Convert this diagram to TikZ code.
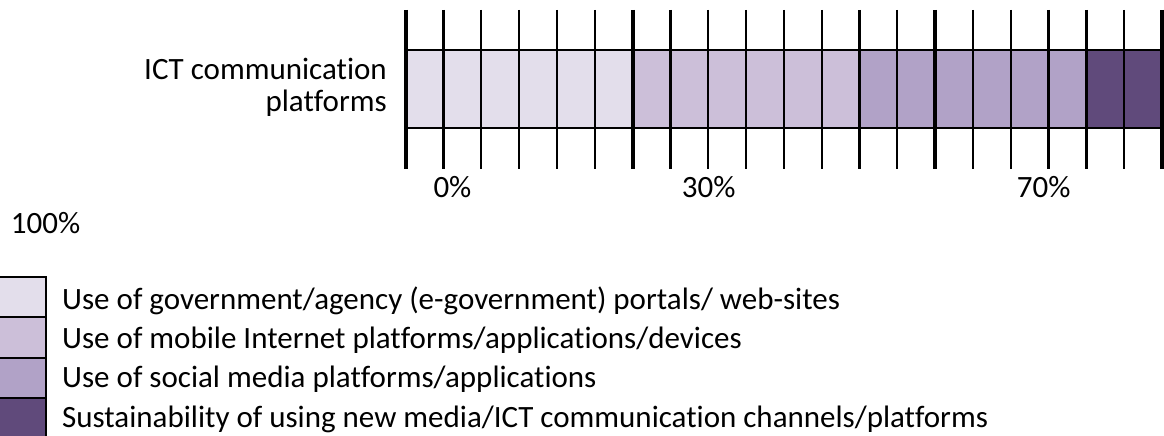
\documentclass[tikz,border=0pt]{standalone}
\usepackage{fontspec}
\setmainfont{Carlito}[Ligatures={NoCommon}]
\definecolor{cA}{RGB}{227,222,235}
\definecolor{cB}{RGB}{204,191,217}
\definecolor{cC}{RGB}{177,162,199}
\definecolor{cD}{RGB}{96,74,123}
\begin{document}
\begin{tikzpicture}[x=1pt,y=-1pt,
  lbl/.style={inner sep=0pt,font=\fontsize{31}{34}\selectfont},
  thin/.style={line width=2.3pt},
  thick/.style={line width=4pt},
  legbox/.style={draw=black,line width=2pt}]
\useasboundingbox (0,0) rectangle (1164,436);
\pgfmathsetmacro{\xo}{405.7}
\pgfmathsetmacro{\dx}{37.815}
% cells
\foreach \i in {0,...,19}{
  \ifnum\i<6 \def\cc{cA}\else\ifnum\i<12 \def\cc{cB}\else\ifnum\i<18 \def\cc{cC}\else\def\cc{cD}\fi\fi\fi
  \fill[\cc] ({\xo+\i*\dx},50) rectangle ({\xo+(\i+1)*\dx},128.3);
}
\draw[line width=2pt] (\xo,50) -- ({\xo+20*\dx},50);
\draw[line width=2pt] (\xo,128.3) -- ({\xo+20*\dx},128.3);
\foreach \i in {1,2,3,4,5,7,8,9,10,11,12,13,15,16,17,18,19}
  \draw[thin] ({\xo+\i*\dx},10) -- ({\xo+\i*\dx},169.3);
\foreach \i in {0,6,14,20}
  \draw[thick] ({\xo+\i*\dx},10) -- ({\xo+\i*\dx},169.3);
% category label
\node[lbl,anchor=base east] (ictA) at (387,80) {ICT communication};
\node[lbl,anchor=base east] (ictB) at (387,111.7) {platforms};
% axis labels
\node[lbl,anchor=base west] (p0) at (433.3,197) {0\%};
\node[lbl,anchor=base west] (p30) at (681.7,197) {30\%};
\node[lbl,anchor=base west] (p70) at (1016.7,197) {70\%};
\node[lbl,anchor=base west] (p100) at (10.7,233.3) {100\%};
% legend
\draw[legbox,fill=cA] (-10,276.7) rectangle (45.7,317.3);
\draw[legbox,fill=cB] (-10,317.3) rectangle (45.7,357.7);
\draw[legbox,fill=cC] (-10,357.7) rectangle (45.7,397.7);
\draw[legbox,fill=cD] (-10,397.7) rectangle (45.7,446);
\node[lbl,anchor=base west] (l1) at (62,309.3) {Use of government/agency (e-government) portals/ web-sites};
\node[lbl,anchor=base west] (l2) at (62,348.5) {Use of mobile Internet platforms/applications/devices};
\node[lbl,anchor=base west] (l3) at (62,387.7) {Use of social media platforms/applications};
\node[lbl,anchor=base west] (l4) at (62,427.5) {Sustainability of using new media/ICT communication channels/platforms};
\end{tikzpicture}
\end{document}
